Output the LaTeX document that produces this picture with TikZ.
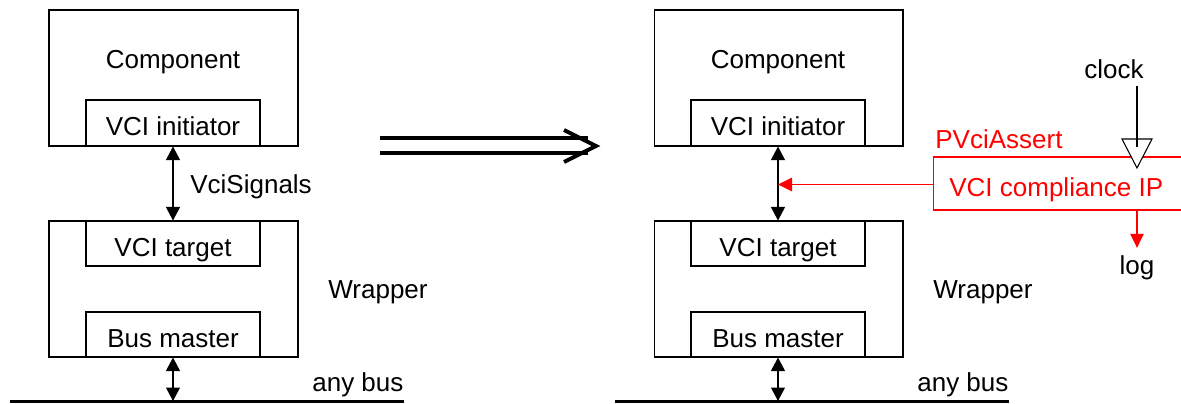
\documentclass[tikz,border=0pt]{standalone}
\usepackage{fontspec}
\setmainfont{Liberation Sans}
\usetikzlibrary{arrows.meta}

\tikzset{
  wire/.style={line width=0.6pt},
  blk/.style={draw, wire, inner sep=0pt},
  txt/.style={font=\fontsize{14.8}{17}\selectfont, inner sep=0pt, anchor=base},
  sig/.style={wire, {Triangle[length=0.27cm,width=0.28cm]}-{Triangle[length=0.27cm,width=0.28cm]}},
  tap/.style={line width=0.7pt, draw=red, -{Triangle[length=0.28cm,width=0.27cm]}},
  busline/.style={line width=1.7pt},
}

\begin{document}
\begin{tikzpicture}[x=0.02cm, y=-0.02cm]
			\useasboundingbox (0,0) rectangle (1181,403);
			
			%%%%% both sides: component, wrapper, bus %%%%%
			\foreach \s/\dx in {L/0, R/605} {
				\node[blk, minimum width=4.98cm, minimum height=2.72cm] (comp\s) at (173.5+\dx, 78) {};
				\node[txt] (compt\s) at (173+\dx, 68) {Component};
				\node[blk, minimum width=3.48cm, minimum height=0.92cm] (ini\s) at (173+\dx, 123) {};
				\node[txt] (init\s) at (173+\dx, 135) {VCI initiator};
				
				\node[blk, minimum width=4.98cm, minimum height=2.72cm] (wrap\s) at (173.5+\dx, 289) {};
				\node[blk, minimum width=3.48cm, minimum height=0.9cm] (tgt\s) at (173+\dx, 243.5) {};
				\node[txt] (tgtt\s) at (173+\dx, 256) {VCI target};
				\node[blk, minimum width=3.48cm, minimum height=0.9cm] (mst\s) at (173+\dx, 334.5) {};
				\node[txt] (mstt\s) at (173+\dx, 347) {Bus master};
				\node[txt, anchor=base west] (wrapt\s) at (328+\dx, 298) {Wrapper};
				
				\coordinate (busA\s) at (10+\dx, 401.5);
				\coordinate (busB\s) at (404+\dx, 401.5);
				\coordinate (busT\s) at (173+\dx, 401);
				\draw[busline] (busA\s) -- (busB\s);
				\node[txt, anchor=base west] (bust\s) at (312+\dx, 391) {any bus};
				
				\draw[sig] (ini\s.south) -- (tgt\s.north);
				\draw[sig] (mst\s.south) -- (busT\s);
			}
			
			\node[txt, anchor=base west] (vcis) at (190, 193) {VciSignals};
			
			%%%%% the big double arrow %%%%%
			\coordinate (dblA) at (380, 145.5);
			\coordinate (dblB) at (588, 145.5);
			\draw[line width=0.08cm, double, double distance=0.22cm] (dblA) -- (dblB);
			\draw[line width=0.08cm] (564, 130) -- (596, 146) -- (564, 162);
			
			%%%%% compliance IP %%%%%
			\node[blk, red, minimum width=5cm, minimum height=1.06cm] (vcp) at (1058, 183.5) {};
			\node[txt, red, anchor=base west] (vcpt) at (949, 196) {VCI compliance IP};
			\node[txt, red, anchor=base west] (pva) at (935, 148) {PVciAssert};
			\coordinate (tapR) at (778, 184.5);
			\draw[tap, red] (vcp.west |- tapR) -- (tapR);
			
			\node[txt] (clk) at (1114, 78) {clock};
			\node[txt] (logt) at (1137, 274) {log};
			\coordinate (clkin) at (1137, 147);
			\draw[wire, fill=white] (1122, 139) -- (1152, 139) -- (1137, 168) -- cycle;
			\draw[wire, shorten <=0.14cm] (clkin |- clk.south) -- (clkin);
			\draw[tap, red, shorten >=0.14cm] (vcp.south -| logt) -- (logt.north);
			
\end{tikzpicture}
\end{document}
